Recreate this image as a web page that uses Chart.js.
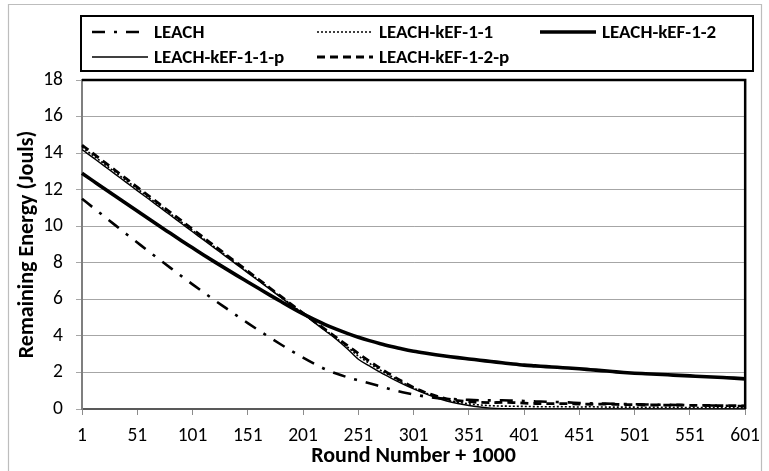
<!DOCTYPE html>
<html>
<head>
<meta charset="utf-8">
<script src="https://cdn.jsdelivr.net/npm/chart.js@4"></script>
<style>
  html, body { margin: 0; padding: 0; background: #fff; }
  #wrap { width: 769px; height: 471px; }
</style>
</head>
<body>
<div id="wrap"><canvas id="c" width="769" height="471"></canvas></div>
<script>
const rounds = [1, 11, 21, 31, 41, 51, 61, 71, 81, 91, 101, 111, 121, 131, 141, 151, 161, 171, 181, 191,
  201, 211, 221, 231, 241, 251, 261, 271, 281, 291, 301, 311, 321, 331, 341, 351, 361, 371, 381, 391,
  401, 411, 421, 431, 441, 451, 461, 471, 481, 491, 501, 511, 521, 531, 541, 551, 561, 571, 581, 591, 601];

const seriesNames = ['LEACH', 'LEACH-kEF-1-1', 'LEACH-kEF-1-2', 'LEACH-kEF-1-1-p', 'LEACH-kEF-1-2-p'];

const leach = [11.5, 11.02, 10.54, 10.06, 9.58, 9.11, 8.64, 8.18, 7.72, 7.27, 6.82, 6.38, 5.95, 5.53, 5.11, 4.70, 4.30, 3.91, 3.53, 3.16,
  2.81, 2.48, 2.18, 1.94, 1.74, 1.57, 1.41, 1.24, 1.07, 0.92, 0.80, 0.69, 0.61, 0.56, 0.53, 0.50, 0.48, 0.47, 0.48, 0.46,
  0.44, 0.42, 0.40, 0.38, 0.36, 0.33, 0.31, 0.30, 0.29, 0.27, 0.26, 0.25, 0.24, 0.23, 0.22, 0.21, 0.20, 0.19, 0.18, 0.17, 0.16];

const kef11 = [14.32, 13.87, 13.41, 12.96, 12.5, 12.05, 11.59, 11.14, 10.68, 10.23, 9.77, 9.32, 8.86, 8.41, 7.95, 7.5, 7.04, 6.59, 6.13, 5.68,
  5.22, 4.77, 4.32, 3.87, 3.4, 2.9, 2.5, 2.12, 1.78, 1.45, 1.15, 0.9, 0.68, 0.5, 0.37, 0.28, 0.22, 0.18, 0.16, 0.15,
  0.14, 0.13, 0.12, 0.13, 0.12, 0.11, 0.12, 0.11, 0.1, 0.1, 0.1, 0.09, 0.09, 0.1, 0.09, 0.08, 0.08, 0.08, 0.07, 0.07, 0.07];

const kef12 = [12.9, 12.48, 12.06, 11.65, 11.24, 10.83, 10.42, 10.01, 9.61, 9.21, 8.82, 8.43, 8.05, 7.68, 7.31, 6.95, 6.59, 6.23, 5.88, 5.53,
  5.20, 4.90, 4.62, 4.37, 4.14, 3.93, 3.74, 3.57, 3.42, 3.28, 3.16, 3.06, 2.97, 2.89, 2.81, 2.74, 2.67, 2.60, 2.53, 2.46,
  2.40, 2.36, 2.32, 2.28, 2.24, 2.20, 2.15, 2.10, 2.05, 2.00, 1.96, 1.93, 1.90, 1.87, 1.84, 1.81, 1.78, 1.75, 1.72, 1.69, 1.65];

const kef11p = [14.2, 13.75, 13.3, 12.85, 12.4, 11.95, 11.5, 11.05, 10.6, 10.15, 9.7, 9.25, 8.8, 8.35, 7.9, 7.45, 7.0, 6.55, 6.1, 5.65,
  5.2, 4.74, 4.28, 3.82, 3.3, 2.72, 2.36, 2.0, 1.68, 1.38, 1.1, 0.85, 0.62, 0.44, 0.3, 0.19, 0.11, 0.05, 0.02, 0.01,
  0, 0, 0, 0, 0, 0, 0, 0, 0, 0, 0, 0, 0, 0, 0, 0, 0, 0, 0, 0, 0];

const kef12p = [14.44, 13.98, 13.52, 13.06, 12.60, 12.14, 11.68, 11.22, 10.76, 10.30, 9.84, 9.38, 8.92, 8.46, 8.00, 7.54, 7.08, 6.62, 6.16, 5.70,
  5.25, 4.80, 4.36, 3.92, 3.48, 3.04, 2.62, 2.22, 1.85, 1.50, 1.18, 0.92, 0.72, 0.56, 0.46, 0.40, 0.36, 0.35, 0.36, 0.35,
  0.32, 0.30, 0.29, 0.30, 0.29, 0.27, 0.26, 0.27, 0.26, 0.24, 0.24, 0.22, 0.22, 0.21, 0.22, 0.20, 0.20, 0.19, 0.19, 0.18, 0.17];

const yTicksMax = 18;
const yTickStep = 2;
const xTitle = 'Round Number + 1000';
const yTitle = 'Remaining Energy (Jouls)';

const FONT = "Carlito, Lato, 'Liberation Sans', sans-serif";

const styles = [
  { width: 2.6, dash: [13, 9, 3, 9] },
  { width: 1.6, dash: [2, 2] },
  { width: 3.6, dash: [] },
  { width: 1.4, dash: [] },
  { width: 2.8, dash: [8, 5] }
];
const values = [leach, kef11, kef12, kef11p, kef12p];

const datasets = seriesNames.map((name, i) => ({
  label: name,
  data: values[i],
  borderColor: '#000',
  backgroundColor: '#000',
  borderWidth: styles[i].width,
  borderDash: styles[i].dash,
  pointRadius: 0,
  fill: false,
  cubicInterpolationMode: 'monotone'
}));

const framePlugin = {
  id: 'frame',
  beforeDraw(chart) {
    const ctx = chart.ctx;
    ctx.save();
    ctx.fillStyle = '#fff';
    ctx.fillRect(0, 0, chart.width, chart.height);
    ctx.strokeStyle = '#bdbdbd';
    ctx.lineWidth = 1.2;
    ctx.beginPath();
    ctx.moveTo(8.5, 472);
    ctx.lineTo(8.5, 4.5);
    ctx.lineTo(761.5, 4.5);
    ctx.lineTo(761.5, 472);
    ctx.stroke();
    ctx.restore();
  },
  afterDraw(chart) {
    const ctx = chart.ctx;
    const a = chart.chartArea;
    ctx.save();
    ctx.strokeStyle = '#000';
    ctx.lineWidth = 2.5;
    ctx.beginPath();
    ctx.moveTo(a.left, a.top);
    ctx.lineTo(a.right, a.top);
    ctx.lineTo(a.right, a.bottom);
    ctx.stroke();
    ctx.lineWidth = 2;
    ctx.strokeRect(81, 16, 672, 55);
    const cols = [92, 317, 540];
    const rows = [32, 57];
    const slots = [[0, 0], [1, 0], [2, 0], [0, 1], [1, 1]];
    ctx.font = "bold 19px " + FONT;
    ctx.textBaseline = 'middle';
    ctx.textAlign = 'left';
    ctx.fillStyle = '#000';
    chart.data.datasets.forEach((ds, i) => {
      const [c, r] = slots[i];
      const x = cols[c], y = rows[r];
      ctx.save();
      ctx.lineWidth = ds.borderWidth;
      ctx.setLineDash(ds.borderDash || []);
      ctx.beginPath();
      ctx.moveTo(x, y);
      ctx.lineTo(x + 56, y);
      ctx.stroke();
      ctx.restore();
      ctx.fillText(ds.label, x + 62, y + 1);
    });
    ctx.restore();
  }
};

new Chart(document.getElementById('c'), {
  type: 'line',
  data: { labels: rounds, datasets: datasets },
  options: {
    responsive: false,
    animation: false,
    layout: { padding: { left: 0, right: 17, top: 80, bottom: 0 } },
    plugins: { legend: { display: false }, tooltip: { enabled: false } },
    scales: {
      x: {
        type: 'category',
        offset: false,
        grid: {
          display: true,
          drawOnChartArea: false,
          drawTicks: true,
          tickLength: 6,
          lineWidth: 1,
          color: (ctx) => (ctx.index % 5 === 0 ? '#8c8c8c' : 'rgba(0,0,0,0)')
        },
        border: { color: '#595959', width: 2 },
        ticks: {
          autoSkip: false,
          maxRotation: 0,
          minRotation: 0,
          padding: 9,
          color: '#000',
          font: { family: FONT, size: 19.5 },
          callback: function (v, i) { return i % 5 === 0 ? this.getLabelForValue(v) : ''; }
        },
        title: {
          display: true,
          text: xTitle,
          color: '#000',
          font: { family: FONT, size: 22, weight: 'bold' },
          padding: { top: 0, bottom: 1 }
        },
        afterFit(s) { s.height = 62; }
      },
      y: {
        min: 0,
        max: yTicksMax,
        ticks: {
          stepSize: yTickStep,
          padding: 13,
          color: '#000',
          font: { family: FONT, size: 19.5 }
        },
        grid: { color: '#a6a6a6', lineWidth: 1, tickLength: 6 },
        border: { color: '#7f7f7f', width: 2 },
        title: {
          display: true,
          text: yTitle,
          color: '#000',
          font: { family: FONT, size: 22, weight: 'bold' },
          padding: { top: 14, bottom: 0 }
        },
        afterFit(s) { s.width = 82; }
      }
    }
  },
  plugins: [framePlugin]
});
</script>
</body>
</html>
